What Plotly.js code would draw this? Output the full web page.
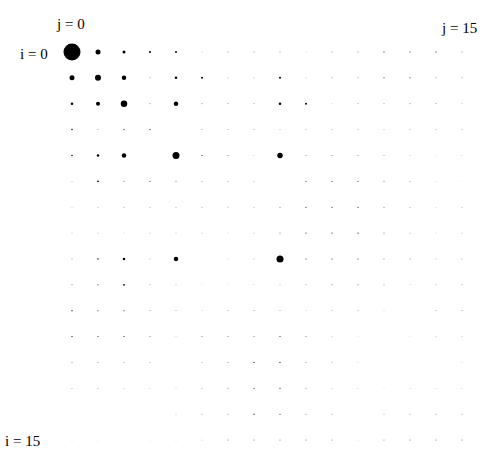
<!DOCTYPE html>
<html>
<head>
<meta charset="utf-8">
<script src="https://cdn.plot.ly/plotly-3.0.1.min.js"></script>
<style>html,body{margin:0;padding:0;background:#fff;}#chart{width:487px;height:450px;}</style>
</head>
<body>
<div id="chart"></div>
<script>
// magnitude of each coefficient (row i, column j), read as dot diameter
const rowIndex = [0,1,2,3,4,5,6,7,8,9,10,11,12,13,14,15];
const colIndex = [0,1,2,3,4,5,6,7,8,9,10,11,12,13,14,15];
const row0  = [17, 5, 3, 2, 2, 0.3, 0.4, 0.4, 0.4, 0.2, 0.5, 0.6, 0.8, 1.0, 0.8, 0.6];
const row1  = [5, 6, 4.5, 0.5, 2.5, 2, 0.3, 0.3, 2, 0.2, 0.5, 0.6, 0.7, 0.7, 0.6, 0.5];
const row2  = [2.5, 4, 6.5, 0.5, 4.5, 0.5, 0.4, 0.4, 2.5, 2, 0.2, 0.4, 0.4, 0.5, 0.4, 0.3];
const row3  = [1.5, 0.6, 0.8, 1.2, 0.1, 0.6, 0.5, 0.4, 0.3, 0.3, 0.3, 0.3, 0.3, 0.3, 0.3, 0.3];
const row4  = [1.5, 2.5, 4.5, 0, 7, 0.8, 0.5, 0.2, 5.5, 0.6, 0.5, 0.5, 0.4, 0.3, 0.1, 0.2];
const row5  = [0.3, 1.8, 0.6, 0.8, 0.6, 0.5, 0.4, 0.3, 0, 0.7, 0.8, 0.8, 0.6, 0.5, 0.2, 0.1];
const row6  = [0.15, 0.3, 0.4, 0.4, 0.4, 0.4, 0.3, 0.3, 0.6, 0.8, 1.1, 0.9, 0.6, 0.5, 0.2, 0.3];
const row7  = [0.3, 0.3, 0.2, 0.3, 0.3, 0.3, 0.15, 0.3, 0.6, 0.8, 1.1, 0.9, 0.6, 0.5, 0.15, 0.3];
const row8  = [0.5, 1.5, 2.5, 0.3, 4.5, 0.1, 0.2, 0.3, 7, 0.7, 0.7, 0.7, 0.6, 0.5, 0.3, 0.4];
const row9  = [0.6, 0.8, 1.8, 0.4, 0.3, 0.1, 0.1, 0.2, 0.3, 0.5, 0.6, 0.6, 0.5, 0.2, 0.4, 0.5];
const row10 = [1.2, 1.0, 0.7, 0.5, 0.3, 0.2, 0.4, 0.5, 0.3, 0.2, 0.3, 0.3, 0.2, 0.1, 0.4, 0.5];
const row11 = [1.2, 1.0, 0.8, 0.5, 0.2, 0.5, 0.6, 0.6, 0.7, 0.6, 0.3, 0.1, 0, 0.1, 0.3, 0.3];
const row12 = [0.6, 0.5, 0.4, 0.4, 0.1, 0.4, 0.5, 0.8, 0.8, 0.5, 0.3, 0.2, 0, 0.1, 0.1, 0.2];
const row13 = [0.4, 0.4, 0.3, 0.2, 0.2, 0.4, 0.6, 1.0, 0.9, 0.5, 0.3, 0.15, 0.1, 0.2, 0.2, 0.2];
const row14 = [0.15, 0.15, 0.1, 0.1, 0.2, 0.4, 0.5, 0.9, 0.7, 0.6, 0.4, 0.1, 0.3, 0.4, 0.5, 0.5];
const row15 = [0.15, 0.1, 0, 0.1, 0.2, 0.3, 0.5, 0.5, 0.6, 0.5, 0.4, 0.2, 0.4, 0.5, 0.6, 0.5];
const rows = [row0,row1,row2,row3,row4,row5,row6,row7,row8,row9,row10,row11,row12,row13,row14,row15];

const xs = [], ys = [], sz = [];
rows.forEach((r, i) => r.forEach((v, j) => {
  xs.push(colIndex[j]); ys.push(rowIndex[i]);
  // sub-pixel dots are drawn at least ~1px so their faint grey shows
  sz.push(v < 1 ? Math.sqrt(v) * 1.2 : v);
}));

const trace = {
  type: 'scatter', mode: 'markers', x: xs, y: ys,
  marker: {size: sz, color: '#000', opacity: 1, line: {width: 0}, sizemode: 'diameter'},
  cliponaxis: false, hoverinfo: 'none'
};

// plot area in pixels: left 72, right 462, top 52, bottom 440.5
const L = 72, W = 390, T = 52, H = 388.5;
const px = x => (x - L) / W;
const py = y => (T + H - y) / H;
const fnt = {family: 'Liberation Serif, Times New Roman, serif', size: 15, color: '#000'};
const ann = (text, x, y) => ({x: px(x), y: py(y), xref: 'paper', yref: 'paper', text: text,
  showarrow: false, font: fnt, xanchor: 'center', yanchor: 'middle'});
const layout = {
  width: 487, height: 450,
  margin: {l: L, r: 487 - L - W, t: T, b: 450 - T - H},
  paper_bgcolor: '#fff', plot_bgcolor: '#fff',
  showlegend: false,
  xaxis: {range: [0, 15], visible: false, fixedrange: true},
  yaxis: {range: [15, 0], visible: false, fixedrange: true},
  annotations: [
    ann('j = 0', 70, 24),
    ann('j = 15', 459, 28),
    ann('i = 0', 34, 54),
    ann('i = 15', 22.5, 442)
  ]
};
Plotly.newPlot('chart', [trace], layout, {staticPlot: true, displayModeBar: false});
</script>
</body>
</html>
